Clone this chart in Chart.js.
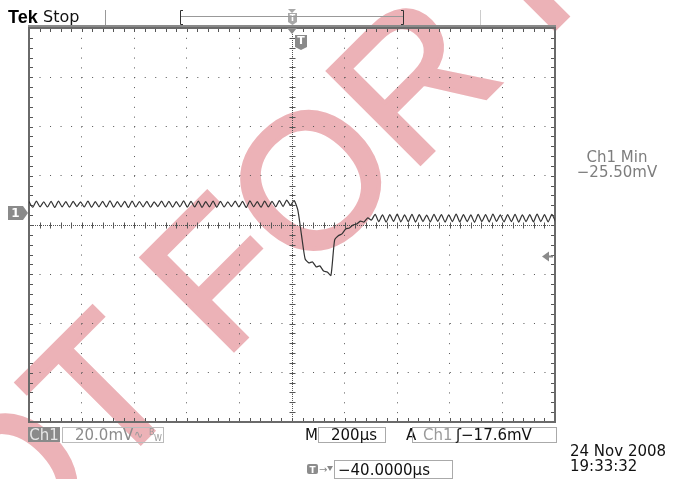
<!DOCTYPE html>
<html>
<head>
<meta charset="utf-8">
<script src="https://cdn.jsdelivr.net/npm/chart.js@4"></script>
<style>
  body { margin: 0; background: #fff; }
  #wrap { position: relative; width: 677px; height: 479px; overflow: hidden; }
  #wrap svg, #wrap canvas { position: absolute; left: 0; top: 0; }
  #back { z-index: 0; }
  #scope { z-index: 1; }
  #front { z-index: 2; font-family: 'DejaVu Sans', sans-serif; font-size: 15px; }
</style>
</head>
<body>
<div id="wrap">
  <svg id="back" width="677" height="479">
    <text x="-95.5" y="679.5" transform="rotate(-45 -95.5 679.5)" font-family="'Liberation Sans', Arial, sans-serif"
          font-size="190" fill="#ecb2b7" stroke="#ecb2b7" stroke-width="4" stroke-linejoin="miter">NOT FOR RELEASE</text>
  </svg>
  <canvas id="scope" width="677" height="479"></canvas>
  <svg id="front" width="677" height="479">
    <!-- top status line -->
    <text x="8" y="22.5" font-family="'Liberation Sans', Arial, sans-serif" font-weight="bold" font-size="18" fill="#000">Tek</text>
    <text x="43" y="22" font-size="16" fill="#111">Stop</text>
    <line x1="105.5" y1="10" x2="105.5" y2="25" stroke="#999"/>
    <line x1="480.5" y1="10" x2="480.5" y2="25" stroke="#ccc"/>
    <line x1="180" y1="16.5" x2="404" y2="16.5" stroke="#999"/>
    <path d="M183 10.5 H180.5 V24.5 H183" fill="none" stroke="#333"/>
    <path d="M401 10.5 H403.5 V24.5 H401" fill="none" stroke="#333"/>

    <!-- measurement readout -->
    <text x="617" y="162" text-anchor="middle" fill="#7d7d7d">Ch1 Min</text>
    <text x="617" y="177" text-anchor="middle" fill="#7d7d7d">−25.50mV</text>

    <!-- bottom readouts -->
    <rect x="28" y="427" width="32" height="15" fill="#8a8a8a"/>
    <text x="44" y="440" text-anchor="middle" fill="#e6e6e6">Ch1</text>
    <rect x="62.5" y="427.5" width="101" height="15" fill="none" stroke="#bbb"/>
    <text x="75" y="440" fill="#8c8c8c">20.0mV</text>
    <text x="134" y="438" font-size="11" fill="#9a9a9a">∿</text>
    <text x="149" y="435" font-size="8" fill="#9a9a9a">B</text>
    <text x="154" y="441" font-size="8" fill="#9a9a9a">W</text>

    <text x="305" y="440" fill="#111">M</text>
    <rect x="318.5" y="427.5" width="67" height="15" fill="none" stroke="#aaa"/>
    <text x="331" y="440" fill="#111">200µs</text>
    <text x="406" y="440" fill="#111">A</text>
    <rect x="412.5" y="427.5" width="144" height="15" fill="none" stroke="#aaa"/>
    <text x="423" y="440" fill="#9a9a9a">Ch1</text>
    <text x="456" y="440" fill="#111">ʃ−17.6mV</text>

    <rect x="307" y="464" width="11" height="10" rx="2" fill="#8c8c8c"/>
    <text x="312.5" y="472.5" text-anchor="middle" font-size="9" font-weight="bold" fill="#fff">T</text>
    <text x="319" y="473" font-size="10" fill="#888">→</text>
    <path d="M327 466 L333 466 L330 471 Z" fill="#888"/>
    <rect x="334.5" y="460.5" width="118" height="18" fill="none" stroke="#aaa"/>
    <text x="338" y="475" fill="#111">−40.0000µs</text>

    <text x="570" y="456" fill="#111">24 Nov 2008</text>
    <text x="570" y="471" fill="#111">19:33:32</text>
  </svg>
</div>
<script>
// horizontal: 200 µs/div, 10 divisions, time relative to screen centre
const xTicks = [-1000, -800, -600, -400, -200, 0, 200, 400, 600, 800, 1000];
// vertical: 20 mV/div, 8 divisions, ground marker 0.25 div above centre
const yTicks = [-85, -65, -45, -25, -5, 15, 35, 55, 75];

const sampleStep = 14;      // µs between samples
const startTime = -1000;    // µs, first sample at left edge
const triggerTime = 0;      // µs
const triggerLevel = -17.6; // mV
const groundLevel = 0;      // mV

// Ch1 (mV) before the dip, ripple peaks/troughs
const preRipple = [
  4.5, 2.2, 4.7, 2.4, 4.4, 2.3, 4.6, 2.1, 4.7, 2.4,
  4.5, 2.2, 4.6, 2.5, 4.4, 2.3, 4.7, 2.2, 4.5, 2.4,
  4.6, 2.3, 4.8, 2.2, 4.5, 2.4, 4.6, 2.1, 4.7, 2.3,
  4.5, 2.4, 4.6, 2.2, 4.4, 2.5, 4.7, 2.3, 4.6, 2.2,
  4.5, 2.4, 4.8, 2.2, 4.6, 2.3, 4.7, 2.1, 4.5, 2.4,
  4.7, 2.2, 4.6, 2.3, 4.4, 2.5, 4.7, 2.3, 4.6, 2.1,
  4.8, 2.4, 4.5, 2.2, 4.7, 2.3, 4.6, 2.4, 4.9, 2.5,
  5.1, 3.0, 4.9
];
// the dip and recovery
const dipEvent = [
  1.1, -9.0, -18.8, -20.4, -20.0, -22.0, -21.6, -23.7, -24.1, -25.5,
  -11.1, -9.4, -8.6, -6.6, -6.2, -5.0, -4.6, -3.4, -3.8, -2.1, -3.0
];
// after the dip
const postRipple = [
  -0.7, -3.6, -0.9, -3.8, -0.8, -3.5, -0.6, -3.7, -0.9, -3.6,
  -0.7, -3.8, -0.8, -3.6, -1.0, -3.7, -0.7, -3.5, -0.8, -3.8,
  -0.9, -3.6, -0.6, -3.7, -0.8, -3.6, -0.9, -3.9, -0.7, -3.6,
  -0.8, -3.7, -0.6, -3.5, -0.9, -3.7, -0.8, -3.6, -0.7, -3.8,
  -0.9, -3.6, -0.8, -3.7, -0.6, -3.6, -0.8, -3.7, -0.7, -3.6
];

const trace = [...preRipple, ...dipEvent, ...postRipple]
  .map((v, i) => ({ x: startTime + i * sampleStep, y: v }));

// graticule centre lines, edge ticks, frame and markers
const scopeDecor = {
  id: 'scopeDecor',
  beforeDatasetsDraw(chart) {
    const { ctx, chartArea: a } = chart;
    const subX = (a.right - a.left) / 50, subY = (a.bottom - a.top) / 40;
    const cx = Math.round((a.left + a.right) / 2) + 0.5;
    const cy = Math.round((a.top + a.bottom) / 2) + 0.5;
    ctx.save();
    ctx.strokeStyle = '#555';
    ctx.lineWidth = 1;
    ctx.setLineDash([1, 1]);
    ctx.beginPath();
    ctx.moveTo(a.left, cy); ctx.lineTo(a.right, cy);
    ctx.moveTo(cx, a.top); ctx.lineTo(cx, a.bottom);
    ctx.stroke();
    ctx.setLineDash([]);
    ctx.beginPath();
    for (let i = 1; i < 50; i++) {
      const px = Math.round(a.left + i * subX) + 0.5;
      ctx.moveTo(px, cy - 3); ctx.lineTo(px, cy + 3);
      ctx.moveTo(px, a.top); ctx.lineTo(px, a.top + 4);
      ctx.moveTo(px, a.bottom); ctx.lineTo(px, a.bottom - 4);
    }
    for (let j = 1; j < 40; j++) {
      const py = Math.round(a.top + j * subY) + 0.5;
      ctx.moveTo(cx - 3, py); ctx.lineTo(cx + 3, py);
      ctx.moveTo(a.left, py); ctx.lineTo(a.left + 4, py);
      ctx.moveTo(a.right, py); ctx.lineTo(a.right - 4, py);
    }
    ctx.stroke();
    ctx.strokeStyle = '#6a6a6a';
    ctx.lineWidth = 2;
    ctx.strokeRect(a.left, a.top, a.right - a.left, a.bottom - a.top);
    ctx.fillStyle = '#8a8a8a';
    ctx.fillRect(a.left - 1, a.top - 3, a.right - a.left + 2, 2);
    ctx.restore();
  },
  afterDraw(chart) {
    const { ctx, chartArea: a, scales: { x, y } } = chart;
    ctx.save();
    // ground marker
    const gy = Math.round(y.getPixelForValue(groundLevel));
    ctx.fillStyle = '#8a8a8a';
    ctx.beginPath();
    ctx.moveTo(8, gy - 7); ctx.lineTo(23, gy - 7); ctx.lineTo(28, gy);
    ctx.lineTo(23, gy + 7); ctx.lineTo(8, gy + 7); ctx.closePath();
    ctx.fill();
    ctx.fillStyle = '#fff';
    ctx.font = 'bold 12px "DejaVu Sans"';
    ctx.textAlign = 'center';
    ctx.textBaseline = 'middle';
    ctx.fillText('1', 15.5, gy + 0.5);
    // trigger level arrow
    const ty = Math.round(y.getPixelForValue(triggerLevel)) + 0.5;
    ctx.fillStyle = '#8a8a8a';
    ctx.beginPath();
    ctx.moveTo(542, ty); ctx.lineTo(549, ty - 5); ctx.lineTo(549, ty + 5); ctx.closePath();
    ctx.fill();
    ctx.fillRect(549, ty - 1, 4, 2);
    // trigger position markers
    const tx = Math.round(x.getPixelForValue(triggerTime));
    ctx.beginPath();
    ctx.moveTo(tx - 5, a.top); ctx.lineTo(tx + 5, a.top); ctx.lineTo(tx, a.top + 6); ctx.closePath();
    ctx.fill();
    const shield = (sx, sy, w, h) => {
      ctx.beginPath();
      ctx.moveTo(sx, sy); ctx.lineTo(sx + w, sy); ctx.lineTo(sx + w, sy + h - 3);
      ctx.lineTo(sx + w / 2, sy + h); ctx.lineTo(sx, sy + h - 3); ctx.closePath();
      ctx.fill();
    };
    ctx.fillStyle = '#8a8a8a';
    shield(tx + 3, 35, 12, 15);
    ctx.fillStyle = '#a8a8a8';
    ctx.beginPath();
    ctx.moveTo(tx - 4, 9); ctx.lineTo(tx + 4, 9); ctx.lineTo(tx, 13); ctx.closePath();
    ctx.fill();
    shield(tx - 4, 13, 9, 12);
    ctx.fillStyle = '#fff';
    ctx.font = 'bold 11px "DejaVu Sans"';
    ctx.fillText('T', tx + 9, 41.5);
    ctx.font = 'bold 8px "DejaVu Sans"';
    ctx.fillText('T', tx + 0.5, 18.5);
    ctx.restore();
  }
};

new Chart(document.getElementById('scope'), {
  type: 'line',
  data: {
    datasets: [{
      label: 'Ch1',
      data: trace,
      borderColor: '#333',
      borderWidth: 1.2,
      pointRadius: 0,
      tension: 0.2
    }]
  },
  options: {
    responsive: false,
    animation: false,
    layout: { padding: { left: 29, top: 28, right: 122, bottom: 57 } },
    plugins: { legend: { display: false }, tooltip: { enabled: false } },
    scales: {
      x: {
        type: 'linear', min: -1000, max: 1000,
        afterBuildTicks: s => { s.ticks = xTicks.map(v => ({ value: v })); },
        ticks: { display: false },
        grid: { color: '#555', drawTicks: false },
        border: { display: false, dash: [1, 8.85] }
      },
      y: {
        type: 'linear', min: -85, max: 75,
        afterBuildTicks: s => { s.ticks = yTicks.map(v => ({ value: v })); },
        ticks: { display: false },
        grid: { color: '#555', drawTicks: false },
        border: { display: false, dash: [1, 9.52] }
      }
    }
  },
  plugins: [scopeDecor]
});
</script>
</body>
</html>
